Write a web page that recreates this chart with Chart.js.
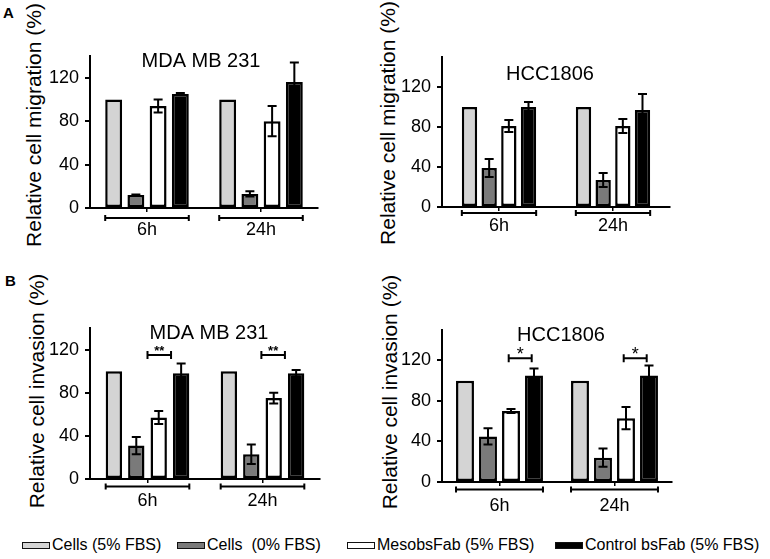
<!DOCTYPE html>
<html lang="en">
<head>
    <meta charset="UTF-8">
    <title>Relative cell migration and invasion</title>
    <script src="https://cdn.jsdelivr.net/npm/chart.js"></script>
    <style>
        * { box-sizing: border-box; margin: 0; padding: 0; }
        body { width: 770px; height: 559px; background: #fff; position: relative; overflow: hidden;
               font-family: Arial, "Liberation Sans", sans-serif; color: #000; }

        .panel { position: absolute; }
        .letter { position: absolute; font-weight: bold; font-size: 15px; }
        .ytitle { position: absolute; font-size: 21px; white-space: nowrap;
                  transform: translate(-50%, -50%) rotate(-90deg); }

        /* legend along the bottom */
        .key { position: absolute; top: 535px; font-size: 16px; white-space: pre; line-height: 20px; }
        .key i { position: absolute; left: -30px; top: 7px; width: 28px; height: 7px; border: 1.5px solid #111; }
        .k0 { left: 52px; } .k1 { left: 207px; } .k2 { left: 377px; } .k3 { left: 585px; }
    </style>
</head>
<body>
    <div class="letter" style="left:3px; top:4px;">A</div>
    <div class="letter" style="left:5px; top:272px;">B</div>

    <div class="ytitle" style="left:34px; top:125px;">Relative cell migration (%)</div>
    <div class="ytitle" style="left:388px; top:123px;">Relative cell migration (%)</div>
    <div class="ytitle" style="left:37px; top:391px;">Relative cell invasion (%)</div>
    <div class="ytitle" style="left:390px; top:392px;">Relative cell invasion (%)</div>

    <div class="panel" style="left:44px; top:52px; width:280px; height:200px;"><canvas id="mdaMig"></canvas></div>
    <div class="panel" style="left:396px; top:53px; width:280px; height:198px;"><canvas id="hccMig"></canvas></div>
    <div class="panel" style="left:44px; top:324px; width:282px; height:199px;"><canvas id="mdaInv"></canvas></div>
    <div class="panel" style="left:396px; top:326px; width:282px; height:200px;"><canvas id="hccInv"></canvas></div>

    <div id="legend"></div>

    <script>
        const groups = ['6h', '24h'];
        const seriesLabels = ['Cells (5% FBS)', 'Cells  (0% FBS)', 'MesobsFab (5% FBS)', 'Control bsFab (5% FBS)'];
        const seriesFill = ['#d4d4d4', '#7a7a7a', '#ffffff', '#000000'];
        const yTicks = [0, 40, 80, 120];

        // rows follow seriesLabels, columns are 6h, 24h
        const mdaMigMean = [[100, 100], [12, 13], [94, 80], [105, 116]];
        const mdaMigErr  = [[0, 0], [0.5, 2.5], [6, 14], [1, 18]];
        const hccMigMean = [[100, 100], [39, 27], [81, 81], [100, 97]];
        const hccMigErr  = [[0, 0], [9, 7], [6, 7], [5, 16]];
        const mdaInvMean = [[100, 100], [31, 23], [57, 75], [98, 98]];
        const mdaInvErr  = [[0, 0], [8, 9], [6, 5], [9, 3]];
        const hccInvMean = [[100, 100], [45, 24], [70, 63], [105, 105]];
        const hccInvErr  = [[0, 0], [8, 9], [2, 11], [7, 10]];

        // significance: [group, from bar, to bar, height, mark]
        const mdaInvSig = [[0, 1.5, 2.55, 115, '**'], [1, 1.45, 2.5, 115, '**']];
        const hccInvSig = [[0, 1.9, 2.9, 122, '*'], [1, 1.9, 2.9, 122, '*']];

        Chart.defaults.font.family = 'Arial, "Liberation Sans", sans-serif';
        Chart.defaults.color = '#000';

        const Y_W = 46, X_H = 44;

        // error bars, group brackets under the axis, significance marks and panel title
        function extras(p) {
            return {
                id: 'extras',
                afterDatasetsDraw(chart) {
                    const { ctx, chartArea } = chart;
                    const y = chart.scales.y;
                    ctx.save();
                    ctx.strokeStyle = '#000';
                    ctx.fillStyle = '#000';
                    ctx.lineWidth = 2;

                    p.err.forEach((row, i) => {
                        const meta = chart.getDatasetMeta(i);
                        row.forEach((e, j) => {
                            if (!e) return;
                            const bar = meta.data[j];
                            const m = p.mean[i][j];
                            const top = y.getPixelForValue(m + e);
                            const bot = y.getPixelForValue(m - e);
                            const cap = 4.5;
                            ctx.beginPath();
                            ctx.moveTo(bar.x, top); ctx.lineTo(bar.x, bot);
                            ctx.moveTo(bar.x - cap, top); ctx.lineTo(bar.x + cap, top);
                            ctx.moveTo(bar.x - cap, bot); ctx.lineTo(bar.x + cap, bot);
                            ctx.stroke();
                        });
                    });

                    const first = chart.getDatasetMeta(0);
                    const last = chart.getDatasetMeta(seriesLabels.length - 1);
                    groups.forEach((g, j) => {
                        const a = first.data[j], b = last.data[j];
                        const x0 = a.x - a.width / 2, x1 = b.x + b.width / 2;
                        const yb = chartArea.bottom + p.bracket;
                        ctx.beginPath();
                        ctx.moveTo(x0, yb); ctx.lineTo(x1, yb);
                        ctx.moveTo(x0, yb - 3); ctx.lineTo(x0, yb + 3);
                        ctx.moveTo(x1, yb - 3); ctx.lineTo(x1, yb + 3);
                        ctx.stroke();
                    });

                    (p.sig || []).forEach(([g, from, to, v, mark]) => {
                        const c0 = chart.getDatasetMeta(0).data[g].x;
                        const step = chart.getDatasetMeta(1).data[g].x - c0;
                        const x0 = c0 + from * step, x1 = c0 + to * step;
                        const yy = y.getPixelForValue(v);
                        ctx.beginPath();
                        ctx.moveTo(x0, yy); ctx.lineTo(x1, yy);
                        ctx.moveTo(x0, yy - 4); ctx.lineTo(x0, yy + 4);
                        ctx.moveTo(x1, yy - 4); ctx.lineTo(x1, yy + 4);
                        ctx.stroke();
                        ctx.font = p.starFont;
                        ctx.textAlign = 'center';
                        ctx.textBaseline = 'alphabetic';
                        ctx.fillText(mark, (x0 + x1) / 2, yy + p.starDy);
                    });

                    ctx.font = '20px Arial, "Liberation Sans", sans-serif';
                    ctx.textAlign = 'center';
                    ctx.textBaseline = 'middle';
                    ctx.fillText(p.title, (chartArea.left + chartArea.right) / 2 + p.titleDx, y.getPixelForValue(p.titleY));
                    ctx.restore();
                }
            };
        }

        function noPad(s) { s.paddingTop = 0; s.paddingBottom = 0; s.paddingLeft = 0; s.paddingRight = 0; }

        function drawPanel(id, p) {
            return new Chart(document.getElementById(id), {
                type: 'bar',
                data: {
                    labels: groups,
                    datasets: seriesLabels.map((name, i) => ({
                        label: name,
                        data: p.mean[i],
                        backgroundColor: seriesFill[i],
                        borderColor: '#000',
                        borderWidth: 2.5,
                        borderSkipped: false,
                        inflateAmount: 0,
                        barPercentage: p.barPct,
                        categoryPercentage: p.catPct
                    }))
                },
                options: {
                    animation: false,
                    responsive: true,
                    maintainAspectRatio: false,
                    layout: { padding: { top: 4, right: 6, left: 0, bottom: 0 } },
                    plugins: { legend: { display: false }, tooltip: { enabled: false } },
                    scales: {
                        x: {
                            grid: { display: true, drawOnChartArea: false, offset: false, tickLength: 4, color: '#000', lineWidth: 1.5 },
                            border: { color: '#000', width: 2 },
                            ticks: { font: { size: 18 }, padding: p.labelPad },
                            afterFit: s => { s.height = X_H; noPad(s); }
                        },
                        y: {
                            min: 0,
                            max: p.max,
                            afterBuildTicks: s => { s.ticks = yTicks.map(v => ({ value: v })); },
                            grid: { display: true, drawOnChartArea: false, tickLength: 5, color: '#000', lineWidth: 2 },
                            border: { color: '#000', width: 2 },
                            ticks: { font: { size: 18 }, padding: 6 },
                            afterFit: s => { s.width = Y_W; noPad(s); }
                        }
                    }
                },
                plugins: [extras(p)]
            });
        }

        drawPanel('mdaMig', { mean: mdaMigMean, err: mdaMigErr, max: 140, catPct: 0.78, barPct: 0.76,
            labelPad: 7, bracket: 10, title: 'MDA MB 231', titleY: 135, titleDx: -3 });
        drawPanel('hccMig', { mean: hccMigMean, err: hccMigErr, max: 150, catPct: 0.69, barPct: 0.78,
            labelPad: 4, bracket: 6, title: 'HCC1806', titleY: 133, titleDx: -6 });
        drawPanel('mdaInv', { mean: mdaInvMean, err: mdaInvErr, max: 140, catPct: 0.78, barPct: 0.73,
            labelPad: 7, bracket: 7.5, title: 'MDA MB 231', titleY: 135, titleDx: 4,
            sig: mdaInvSig, starFont: 'bold 13px Arial, sans-serif', starDy: 0 });
        drawPanel('hccInv', { mean: hccInvMean, err: hccInvErr, max: 150, catPct: 0.8, barPct: 0.78,
            labelPad: 9, bracket: 7.5, title: 'HCC1806', titleY: 145, titleDx: 4,
            sig: hccInvSig, starFont: '18px Arial, sans-serif', starDy: 2 });

        // legend built from the series
        const legend = document.getElementById('legend');
        seriesLabels.forEach((name, i) => {
            const key = document.createElement('span');
            key.className = 'key k' + i;
            key.innerHTML = '<i style="background:' + seriesFill[i] + '"></i>';
            key.appendChild(document.createTextNode(name));
            legend.appendChild(key);
        });
    </script>
</body>
</html>
